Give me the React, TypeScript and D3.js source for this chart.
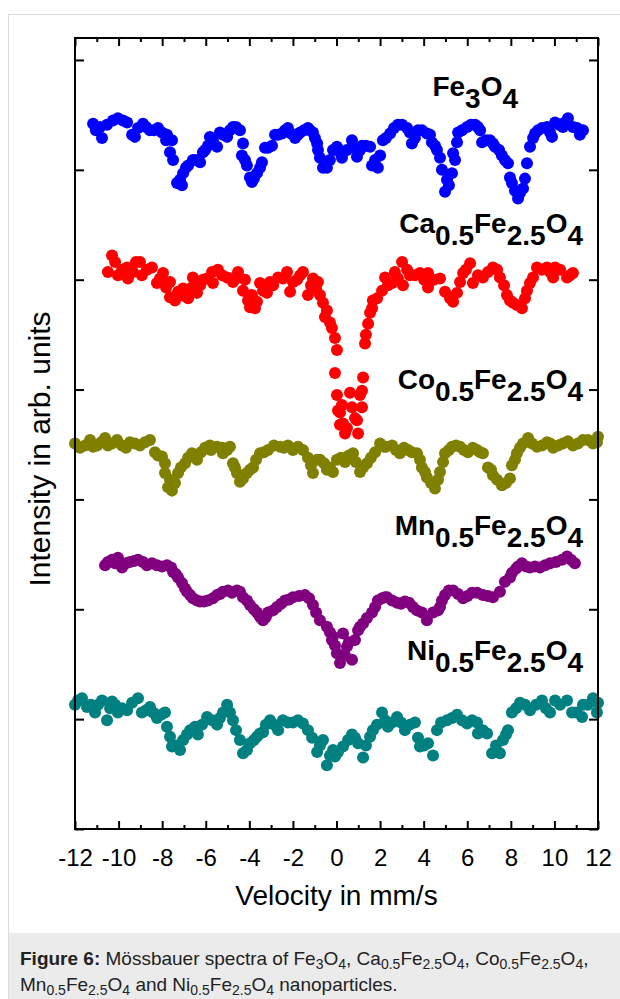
import React, { useRef, useEffect } from "react";
import * as d3 from "d3";

// velocity axis (mm/s)
const velocityTicks = d3.range(-12, 13, 2);
const velocityMinor = d3.range(-11, 12, 2);
// intensity axis (arb. units, unlabeled)
const intensityTicks = [0, 1, 2, 3, 4, 5, 6, 7];

// [velocity, intensity]
const fe3o4 = [
  [-11.17, 6.42], [-11.04, 6.36], [-10.85, 6.39], [-10.76, 6.29], [-10.53, 6.41], [-10.26, 6.45],
  [-10.03, 6.47], [-9.80, 6.45], [-9.61, 6.43], [-9.38, 6.32], [-9.25, 6.30], [-9.11, 6.38],
  [-8.88, 6.42], [-8.74, 6.39], [-8.56, 6.36], [-8.38, 6.36], [-8.19, 6.38], [-8.01, 6.34],
  [-7.82, 6.27], [-7.78, 6.32], [-7.55, 6.27], [-7.64, 6.16], [-7.50, 6.09], [-7.32, 5.88],
  [-7.18, 5.91], [-7.09, 5.86], [-7.04, 5.97], [-6.91, 6.02], [-6.81, 6.04], [-6.59, 6.09],
  [-6.45, 6.09], [-6.26, 6.07], [-6.13, 6.16], [-6.03, 6.18], [-5.90, 6.22], [-5.81, 6.30],
  [-5.67, 6.27], [-5.48, 6.21], [-5.35, 6.34], [-5.21, 6.32], [-5.02, 6.30], [-4.89, 6.36],
  [-4.75, 6.39], [-4.61, 6.39], [-4.43, 6.36], [-4.29, 6.24], [-4.34, 6.13], [-4.20, 6.09],
  [-4.11, 6.04], [-3.97, 5.93], [-3.88, 5.89], [-3.79, 5.92], [-3.65, 5.97], [-3.51, 6.02],
  [-3.42, 6.07], [-3.28, 6.20], [-3.14, 6.20], [-2.96, 6.22], [-2.82, 6.32], [-2.68, 6.32],
  [-2.50, 6.33], [-2.36, 6.36], [-2.23, 6.38], [-2.09, 6.33], [-1.90, 6.29], [-1.77, 6.32],
  [-1.67, 6.34], [-1.49, 6.36], [-1.31, 6.38], [-1.22, 6.36], [-1.08, 6.34], [-0.99, 6.29],
  [-0.89, 6.24], [-0.85, 6.18], [-0.76, 6.11], [-0.62, 6.02], [-0.44, 6.02], [-0.30, 6.09],
  [-0.16, 6.18], [0.02, 6.21], [0.16, 6.16], [0.25, 6.11], [0.48, 6.18], [0.71, 6.27],
  [0.85, 6.20], [0.94, 6.12], [1.08, 6.18], [1.17, 6.22], [1.35, 6.22], [1.54, 6.21],
  [1.63, 6.04], [1.77, 6.09], [1.90, 6.02], [2.00, 6.13], [2.13, 6.27], [2.27, 6.29],
  [2.46, 6.33], [2.64, 6.38], [2.82, 6.41], [3.01, 6.41], [3.24, 6.38], [3.37, 6.34],
  [3.46, 6.24], [3.60, 6.29], [3.74, 6.36], [3.92, 6.36], [4.15, 6.33], [4.29, 6.32],
  [4.38, 6.25], [4.52, 6.22], [4.61, 6.18], [4.75, 6.11], [4.84, 6.00], [5.07, 5.91],
  [4.98, 5.80], [5.16, 5.86], [5.30, 5.97], [5.35, 6.15], [5.44, 6.09], [5.53, 6.25],
  [5.58, 6.34], [5.76, 6.36], [5.99, 6.39], [6.17, 6.41], [6.36, 6.41], [6.49, 6.39],
  [6.59, 6.36], [6.68, 6.25], [6.86, 6.27], [7.04, 6.27], [7.18, 6.24], [7.27, 6.21],
  [7.46, 6.18], [7.59, 6.13], [7.73, 6.09], [7.87, 6.06], [7.96, 5.93], [8.05, 5.88],
  [8.19, 5.81], [8.33, 5.74], [8.42, 5.79], [8.56, 5.83], [8.65, 5.92], [8.74, 6.06],
  [8.88, 6.21], [9.02, 6.29], [9.11, 6.33], [9.25, 6.36], [9.43, 6.38], [9.66, 6.39],
  [9.80, 6.34], [9.89, 6.30], [10.03, 6.43], [10.21, 6.41], [10.39, 6.39], [10.48, 6.43],
  [10.62, 6.47], [10.85, 6.39], [11.04, 6.38], [11.17, 6.32], [11.31, 6.36],
];

const ca05 = [
  [-10.49, 5.07], [-10.30, 5.22], [-10.16, 5.16], [-10.03, 5.04], [-9.84, 5.09], [-9.61, 5.11],
  [-9.57, 5.01], [-9.34, 5.07], [-9.20, 5.16], [-9.02, 5.16], [-8.93, 5.04], [-8.70, 5.09],
  [-8.47, 5.11], [-8.24, 4.97], [-8.10, 5.01], [-7.96, 5.06], [-7.82, 4.93], [-7.64, 4.98],
  [-7.64, 4.84], [-7.41, 4.81], [-7.27, 4.89], [-7.04, 4.92], [-6.95, 4.85], [-6.81, 4.83],
  [-6.63, 4.93], [-6.59, 5.02], [-6.40, 4.88], [-6.26, 4.95], [-6.13, 5.00], [-5.94, 5.01],
  [-5.71, 5.07], [-5.67, 4.97], [-5.44, 5.09], [-5.25, 5.04], [-5.02, 5.02], [-4.89, 5.01],
  [-4.75, 4.98], [-4.61, 5.01], [-4.52, 5.07], [-4.29, 4.90], [-4.20, 5.00], [-4.06, 4.81],
  [-3.97, 4.75], [-3.88, 4.86], [-3.74, 4.74], [-3.65, 4.80], [-3.51, 4.97], [-3.37, 4.90],
  [-3.19, 4.88], [-3.05, 4.98], [-2.91, 4.95], [-2.68, 5.02], [-2.45, 5.01], [-2.27, 5.07],
  [-2.13, 4.89], [-2.00, 4.98], [-1.81, 5.00], [-1.67, 5.04], [-1.54, 5.07], [-1.31, 4.86],
  [-1.17, 4.95], [-1.08, 5.01], [-0.94, 4.92], [-0.85, 4.98], [-0.76, 4.86], [-0.62, 4.79],
  [-0.53, 4.66], [-0.44, 4.72], [-0.30, 4.61], [-0.21, 4.56], [-0.07, 4.47], [0.02, 4.36],
  [-0.07, 4.15], [0.02, 3.95], [0.07, 3.81], [0.16, 3.79], [0.16, 3.68], [0.25, 3.86],
  [0.30, 3.69], [0.39, 3.60], [0.48, 3.65], [0.62, 3.97], [0.71, 3.84], [0.85, 3.74],
  [0.94, 3.72], [0.99, 3.60], [1.08, 3.95], [1.17, 3.84], [1.17, 3.99], [1.22, 4.11],
  [1.31, 4.42], [1.35, 4.50], [1.45, 4.60], [1.54, 4.70], [1.63, 4.74], [1.67, 4.81],
  [1.86, 4.83], [2.09, 4.90], [2.23, 5.02], [2.36, 4.95], [2.55, 4.97], [2.68, 5.07],
  [2.82, 5.01], [3.01, 5.16], [3.05, 4.95], [3.24, 5.09], [3.37, 5.04], [3.60, 5.04],
  [3.83, 5.06], [4.02, 5.00], [4.20, 4.93], [4.20, 5.06], [4.47, 5.00], [4.75, 5.01],
  [4.98, 4.89], [5.21, 4.83], [5.35, 4.80], [5.53, 4.88], [5.67, 4.98], [5.81, 5.06],
  [5.94, 5.09], [6.13, 5.15], [6.26, 4.97], [6.49, 5.04], [6.72, 5.02], [6.95, 5.07],
  [7.18, 5.11], [7.37, 5.09], [7.50, 5.02], [7.69, 4.95], [7.82, 4.86], [7.96, 4.81],
  [8.10, 4.79], [8.28, 4.77], [8.51, 4.74], [8.65, 4.83], [8.74, 4.90], [8.88, 4.97],
  [9.02, 5.02], [9.20, 5.11], [9.43, 5.09], [9.66, 5.11], [9.80, 5.07], [9.94, 5.02],
  [10.03, 5.11], [10.26, 5.09], [10.58, 5.02], [10.71, 5.04], [10.85, 5.06],
];

const co05 = [
  [-12.00, 3.51], [-11.77, 3.47], [-11.54, 3.49], [-11.31, 3.54], [-11.17, 3.48], [-10.99, 3.49],
  [-10.80, 3.52], [-10.62, 3.56], [-10.49, 3.49], [-10.30, 3.51], [-10.07, 3.54], [-9.84, 3.49],
  [-9.66, 3.47], [-9.48, 3.52], [-9.25, 3.51], [-9.02, 3.49], [-8.79, 3.52], [-8.56, 3.54],
  [-8.33, 3.43], [-8.19, 3.40], [-8.01, 3.39], [-7.87, 3.33], [-7.87, 3.24], [-7.73, 3.11],
  [-7.64, 3.18], [-7.55, 3.08], [-7.41, 3.15], [-7.27, 3.24], [-7.14, 3.29], [-6.95, 3.33],
  [-6.81, 3.38], [-6.63, 3.42], [-6.40, 3.36], [-6.22, 3.43], [-6.03, 3.47], [-5.81, 3.49],
  [-5.76, 3.45], [-5.48, 3.48], [-5.25, 3.47], [-5.21, 3.42], [-5.02, 3.45], [-4.89, 3.48],
  [-4.75, 3.33], [-4.66, 3.29], [-4.57, 3.24], [-4.43, 3.16], [-4.29, 3.19], [-4.11, 3.24],
  [-3.97, 3.27], [-3.83, 3.29], [-3.69, 3.36], [-3.51, 3.42], [-3.33, 3.43], [-3.14, 3.45],
  [-2.87, 3.49], [-2.59, 3.48], [-2.41, 3.47], [-2.23, 3.49], [-2.00, 3.45], [-1.77, 3.48],
  [-1.54, 3.45], [-1.31, 3.38], [-1.17, 3.31], [-1.08, 3.24], [-0.89, 3.36], [-0.76, 3.36],
  [-0.57, 3.33], [-0.44, 3.27], [-0.30, 3.29], [-0.16, 3.25], [0.02, 3.36], [0.21, 3.38],
  [0.39, 3.34], [0.57, 3.40], [0.76, 3.42], [0.89, 3.34], [1.08, 3.25], [1.22, 3.29],
  [1.40, 3.33], [1.58, 3.38], [1.77, 3.43], [2.00, 3.51], [2.18, 3.48], [2.27, 3.48],
  [2.55, 3.49], [2.73, 3.45], [2.91, 3.42], [3.10, 3.47], [3.28, 3.45], [3.46, 3.43],
  [3.69, 3.42], [3.83, 3.36], [3.92, 3.29], [4.06, 3.25], [4.15, 3.20], [4.34, 3.15],
  [4.52, 3.10], [4.66, 3.18], [4.75, 3.25], [4.89, 3.34], [4.98, 3.42], [5.16, 3.45],
  [5.30, 3.48], [5.49, 3.49], [5.67, 3.48], [5.85, 3.45], [6.03, 3.43], [6.26, 3.47],
  [6.45, 3.45], [6.59, 3.43], [6.72, 3.42], [6.95, 3.29], [7.09, 3.27], [7.18, 3.22],
  [7.37, 3.18], [7.59, 3.13], [7.78, 3.15], [7.96, 3.19], [8.05, 3.31], [8.19, 3.36],
  [8.28, 3.42], [8.42, 3.47], [8.56, 3.51], [8.79, 3.56], [8.97, 3.51], [9.20, 3.48],
  [9.43, 3.49], [9.66, 3.52], [9.80, 3.51], [9.94, 3.47], [10.17, 3.49], [10.39, 3.51],
  [10.62, 3.53], [10.85, 3.49], [11.08, 3.51], [11.31, 3.54], [11.54, 3.54], [11.77, 3.51],
  [11.95, 3.52], [12.00, 3.57],
];

const mn05 = [
  [-10.62, 2.40], [-10.49, 2.43], [-10.30, 2.45], [-10.16, 2.42], [-10.03, 2.47], [-9.84, 2.38],
  [-9.66, 2.42], [-9.48, 2.43], [-9.29, 2.44], [-9.11, 2.45], [-8.88, 2.43], [-8.70, 2.40],
  [-8.47, 2.42], [-8.24, 2.40], [-8.01, 2.39], [-7.78, 2.40], [-7.59, 2.38], [-7.50, 2.34],
  [-7.37, 2.32], [-7.27, 2.29], [-7.09, 2.24], [-6.95, 2.19], [-6.86, 2.16], [-6.72, 2.13],
  [-6.59, 2.10], [-6.40, 2.08], [-6.26, 2.07], [-6.08, 2.07], [-5.90, 2.08], [-5.67, 2.10],
  [-5.48, 2.13], [-5.35, 2.14], [-5.21, 2.16], [-4.98, 2.17], [-4.80, 2.15], [-4.57, 2.17],
  [-4.43, 2.16], [-4.29, 2.11], [-4.11, 2.08], [-3.97, 2.04], [-3.79, 2.00], [-3.65, 1.97],
  [-3.51, 1.93], [-3.37, 1.90], [-3.24, 1.93], [-3.14, 1.97], [-2.91, 1.99], [-2.73, 2.02],
  [-2.54, 2.05], [-2.36, 2.08], [-2.18, 2.09], [-2.00, 2.11], [-1.72, 2.12], [-1.45, 2.13],
  [-1.26, 2.10], [-1.08, 2.04], [-0.94, 1.97], [-0.76, 1.90], [-0.44, 1.84], [-0.30, 1.79],
  [-0.21, 1.72], [-0.16, 1.75], [-0.07, 1.67], [0.02, 1.60], [0.16, 1.51], [0.30, 1.78],
  [0.39, 1.58], [0.48, 1.66], [0.57, 1.70], [0.71, 1.54], [0.85, 1.72], [0.99, 1.81],
  [1.08, 1.84], [1.22, 1.87], [1.40, 1.92], [1.63, 1.97], [1.77, 2.02], [1.90, 2.08],
  [2.09, 2.10], [2.23, 2.11], [2.32, 2.11], [2.55, 2.08], [2.78, 2.06], [2.96, 2.05],
  [3.14, 2.07], [3.33, 2.06], [3.51, 2.02], [3.69, 1.99], [3.92, 1.97], [4.15, 1.90],
  [4.43, 1.97], [4.66, 1.99], [4.75, 2.02], [4.84, 2.08], [4.98, 2.13], [5.16, 2.17],
  [5.35, 2.17], [5.58, 2.14], [5.81, 2.10], [6.01, 2.12], [6.22, 2.15], [6.45, 2.15],
  [6.72, 2.13], [6.95, 2.12], [7.18, 2.11], [7.50, 2.16], [7.73, 2.25], [7.96, 2.29],
  [8.05, 2.33], [8.24, 2.37], [8.33, 2.39], [8.51, 2.42], [8.70, 2.39], [8.88, 2.38],
  [9.11, 2.39], [9.34, 2.38], [9.57, 2.40], [9.80, 2.42], [10.07, 2.43], [10.35, 2.45],
  [10.58, 2.48], [10.76, 2.45], [10.94, 2.42],
];

const ni05 = [
  [-12.00, 1.13], [-11.86, 1.17], [-11.68, 1.19], [-11.45, 1.11], [-11.27, 1.13], [-11.08, 1.06],
  [-10.94, 1.13], [-10.76, 1.17], [-10.53, 0.99], [-10.39, 1.10], [-10.30, 1.16], [-10.16, 1.13],
  [-10.03, 1.06], [-9.84, 1.10], [-9.61, 1.08], [-9.38, 1.15], [-9.11, 1.19], [-8.93, 1.06],
  [-8.74, 1.08], [-8.56, 1.11], [-8.42, 1.06], [-8.24, 1.01], [-8.05, 1.04], [-7.87, 1.06],
  [-7.78, 0.93], [-7.64, 0.84], [-7.55, 0.75], [-7.37, 0.76], [-7.18, 0.72], [-7.04, 0.81],
  [-6.86, 0.86], [-6.72, 0.90], [-6.49, 0.93], [-6.36, 0.86], [-6.17, 0.95], [-5.94, 1.02],
  [-5.71, 0.99], [-5.48, 0.95], [-5.35, 1.01], [-5.21, 1.06], [-5.02, 1.13], [-4.89, 1.06],
  [-4.75, 0.99], [-4.61, 0.90], [-4.43, 0.81], [-4.29, 0.69], [-4.11, 0.72], [-3.97, 0.78],
  [-3.79, 0.81], [-3.65, 0.84], [-3.51, 0.87], [-3.37, 0.88], [-3.24, 0.95], [-3.05, 0.99],
  [-2.87, 0.95], [-2.68, 0.90], [-2.46, 0.99], [-2.23, 0.97], [-2.00, 0.97], [-1.77, 0.99],
  [-1.54, 0.96], [-1.31, 0.90], [-1.12, 0.83], [-0.89, 0.70], [-0.76, 0.76], [-0.62, 0.81],
  [-0.44, 0.58], [-0.30, 0.67], [-0.16, 0.72], [-0.07, 0.66], [0.07, 0.70], [0.30, 0.75],
  [0.53, 0.81], [0.71, 0.86], [0.85, 0.83], [0.99, 0.78], [1.22, 0.65], [1.35, 0.76],
  [1.54, 0.84], [1.67, 0.90], [1.86, 0.95], [2.09, 1.06], [2.23, 0.99], [2.36, 0.93],
  [2.55, 0.97], [2.78, 1.02], [2.96, 0.97], [3.14, 0.90], [3.37, 0.95], [3.60, 0.97],
  [3.74, 0.83], [3.83, 0.75], [4.02, 0.76], [4.20, 0.78], [4.43, 0.67], [4.61, 0.90],
  [4.80, 0.97], [5.07, 0.99], [5.30, 1.01], [5.53, 1.04], [5.76, 0.99], [5.99, 0.96],
  [6.22, 0.99], [6.45, 0.97], [6.49, 0.87], [6.72, 0.90], [6.91, 0.87], [7.14, 0.69],
  [7.32, 0.76], [7.50, 0.69], [7.64, 0.81], [7.78, 0.86], [7.87, 0.90], [8.05, 1.06],
  [8.24, 1.10], [8.42, 1.15], [8.65, 1.13], [8.88, 1.08], [9.16, 1.13], [9.43, 1.17],
  [9.61, 1.10], [9.80, 1.06], [10.03, 1.17], [10.26, 1.13], [10.58, 1.17], [10.81, 1.06],
  [11.00, 1.06], [11.27, 1.02], [11.31, 1.13], [11.54, 1.13], [11.77, 1.19], [11.95, 1.06],
  [12.00, 1.15],
];

const seriesColors = ["#0000ff", "#ff0000", "#808000", "#800080", "#008080"];

// sample labels: [text, isSubscript]
const seriesLabels = [
  [["Fe", 0], ["3", 1], ["O", 0], ["4", 1]],
  [["Ca", 0], ["0.5", 1], ["Fe", 0], ["2.5", 1], ["O", 0], ["4", 1]],
  [["Co", 0], ["0.5", 1], ["Fe", 0], ["2.5", 1], ["O", 0], ["4", 1]],
  [["Mn", 0], ["0.5", 1], ["Fe", 0], ["2.5", 1], ["O", 0], ["4", 1]],
  [["Ni", 0], ["0.5", 1], ["Fe", 0], ["2.5", 1], ["O", 0], ["4", 1]],
];

// caption parts: 0 normal, 1 subscript, 2 bold
const captionLine1 = [
  ["Figure 6:", 2], [" Mössbauer spectra of Fe", 0], ["3", 1], ["O", 0], ["4", 1],
  [", Ca", 0], ["0.5", 1], ["Fe", 0], ["2.5", 1], ["O", 0], ["4", 1],
  [", Co", 0], ["0.5", 1], ["Fe", 0], ["2.5", 1], ["O", 0], ["4", 1], [",", 0],
];
const captionLine2 = [
  ["Mn", 0], ["0.5", 1], ["Fe", 0], ["2.5", 1], ["O", 0], ["4", 1],
  [" and Ni", 0], ["0.5", 1], ["Fe", 0], ["2.5", 1], ["O", 0], ["4", 1], [" nanoparticles.", 0],
];

const App = () => {
  const ref = useRef<SVGSVGElement>(null);

  useEffect(() => {
    const W = 620;
    const H = 999;
    const margin = { top: 38, right: 22, bottom: 170, left: 75 };
    const svg = d3.select(ref.current);
    svg.selectAll("*").remove();

    // figure frame + caption box
    svg.append("rect").attr("x", 8.5).attr("y", 14.5).attr("width", W).attr("height", H)
      .attr("fill", "#fff").attr("stroke", "#dcdcdc");
    svg.append("rect").attr("x", 9).attr("y", 933).attr("width", W).attr("height", H - 933)
      .attr("fill", "#ebebeb");

    const x = d3.scaleLinear().domain([-12, 12]).range([margin.left, W - margin.right]);
    const y = d3.scaleLinear().domain([0, 7.2]).range([H - margin.bottom, margin.top]);

    const font = "'Liberation Sans', Arial, sans-serif";

    const styleAxis = (g) => {
      g.select(".domain").remove();
      g.selectAll(".tick line").attr("stroke", "#000").attr("stroke-width", 2);
    };

    // bottom axis with labels
    svg.append("g")
      .attr("transform", `translate(0,${y(0)})`)
      .call(d3.axisBottom(x).tickValues(velocityTicks).tickSizeInner(-8).tickSizeOuter(0).tickPadding(20)
        .tickFormat((d) => String(d)))
      .call(styleAxis)
      .call((g) => g.selectAll("text").attr("font-family", font).attr("font-size", 24).attr("fill", "#000"));
    svg.append("g")
      .attr("transform", `translate(0,${y(0)})`)
      .call(d3.axisBottom(x).tickValues(velocityMinor).tickSizeInner(-4).tickSizeOuter(0).tickFormat(() => ""))
      .call(styleAxis);

    // top axis
    svg.append("g")
      .attr("transform", `translate(0,${y(7.2)})`)
      .call(d3.axisTop(x).tickValues(velocityTicks).tickSizeInner(-8).tickSizeOuter(0).tickFormat(() => ""))
      .call(styleAxis);
    svg.append("g")
      .attr("transform", `translate(0,${y(7.2)})`)
      .call(d3.axisTop(x).tickValues(velocityMinor).tickSizeInner(-4).tickSizeOuter(0).tickFormat(() => ""))
      .call(styleAxis);

    // left / right axes (no labels)
    svg.append("g")
      .attr("transform", `translate(${x(-12)},0)`)
      .call(d3.axisLeft(y).tickValues(intensityTicks).tickSizeInner(-9).tickSizeOuter(0).tickFormat(() => ""))
      .call(styleAxis);
    svg.append("g")
      .attr("transform", `translate(${x(12)},0)`)
      .call(d3.axisRight(y).tickValues(intensityTicks).tickSizeInner(-9).tickSizeOuter(0).tickFormat(() => ""))
      .call(styleAxis);

    // spectra
    [fe3o4, ca05, co05, mn05, ni05].forEach((data, i) => {
      svg.append("g")
        .attr("fill", seriesColors[i])
        .selectAll("circle")
        .data(data)
        .enter()
        .append("circle")
        .attr("cx", (d) => x(d[0]))
        .attr("cy", (d) => y(d[1]))
        .attr("r", 6);
    });

    // plot frame
    svg.append("rect")
      .attr("x", x(-12)).attr("y", y(7.2))
      .attr("width", x(12) - x(-12)).attr("height", y(0) - y(7.2))
      .attr("fill", "none").attr("stroke", "#000").attr("stroke-width", 2);

    // sample labels
    const labelPos = [
      { x: 518, y: 96 },
      { x: 583, y: 233 },
      { x: 583, y: 389 },
      { x: 583, y: 535 },
      { x: 583, y: 660 },
    ];
    seriesLabels.forEach((parts, i) => {
      const t = svg.append("text")
        .attr("x", labelPos[i].x).attr("y", labelPos[i].y)
        .attr("text-anchor", "end")
        .attr("font-family", font).attr("font-weight", "bold").attr("font-size", 28)
        .attr("fill", "#000");
      let prev = 0;
      parts.forEach(([s, sub]) => {
        t.append("tspan").attr("dy", (sub - prev) * 12).text(s);
        prev = sub;
      });
    });

    // axis titles
    svg.append("text")
      .attr("x", (x(-12) + x(12)) / 2).attr("y", 905)
      .attr("text-anchor", "middle")
      .attr("font-family", font).attr("font-size", 28)
      .text("Velocity in mm/s");
    svg.append("text")
      .attr("transform", `translate(50,449) rotate(-90)`)
      .attr("text-anchor", "middle")
      .attr("font-family", font).attr("font-size", 30)
      .text("Intensity in arb. units");

    // caption
    [captionLine1, captionLine2].forEach((parts, li) => {
      const t = svg.append("text")
        .attr("x", 20).attr("y", 965 + li * 26)
        .attr("font-family", font).attr("font-size", 19).attr("fill", "#222");
      let prev = 0;
      parts.forEach(([s, kind]) => {
        const sub = kind === 1 ? 1 : 0;
        t.append("tspan")
          .attr("dy", (sub - prev) * 4)
          .attr("font-size", sub ? 14 : 19)
          .attr("font-weight", kind === 2 ? "bold" : "normal")
          .text(s);
        prev = sub;
      });
    });
  }, []);

  return (
    <svg ref={ref} width={620} height={999} style={{ position: "absolute", left: 0, top: 0 }} />
  );
};

export default App;
